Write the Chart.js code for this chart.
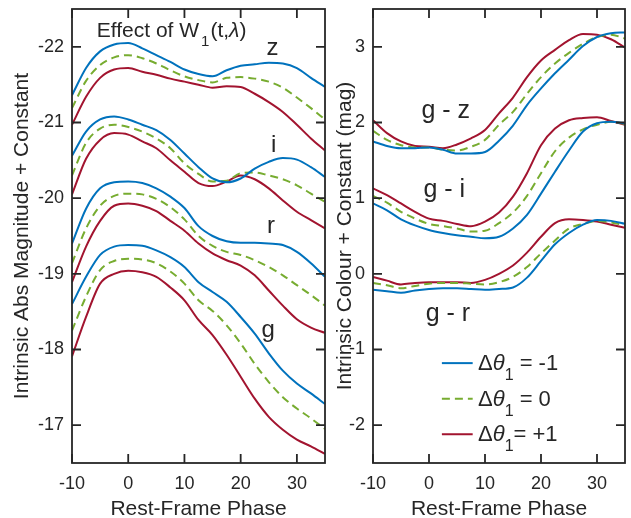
<!DOCTYPE html>
<html>
<head>
<meta charset="utf-8">
<script src="https://cdn.jsdelivr.net/npm/chart.js@4.4.0/dist/chart.umd.min.js"></script>
<style>
  body { margin: 0; background: #fff; }
  #wrap { position: relative; width: 631px; height: 518px; }
  canvas { position: absolute; top: 0; }
</style>
</head>
<body>
<div id="wrap">
  <canvas id="magChart" width="330" height="518" style="left:0"></canvas>
  <canvas id="colChart" width="301" height="518" style="left:330px"></canvas>
</div>
<script>
// rest-frame phase (days)
const phase = [-10, -7.5, -5, -2.5, 0, 2.5, 5, 7.5, 10, 12.5, 15, 17.5, 20, 22.5, 25, 27.5, 30, 32.5, 35];

// left panel: abs magnitude + constant, for d_theta1 = -1 / 0 / +1
const zNeg = [-21.36, -21.72, -21.94, -22.03, -22.05, -21.98, -21.89, -21.80, -21.70, -21.64, -21.61, -21.69, -21.75, -21.77, -21.79, -21.78, -21.72, -21.59, -21.47];
const zMid = [-21.19, -21.55, -21.76, -21.86, -21.89, -21.85, -21.78, -21.69, -21.61, -21.56, -21.53, -21.59, -21.60, -21.58, -21.54, -21.46, -21.33, -21.19, -21.04];
const zPos = [-20.97, -21.34, -21.59, -21.70, -21.72, -21.67, -21.63, -21.58, -21.54, -21.50, -21.46, -21.48, -21.47, -21.38, -21.27, -21.14, -20.97, -20.79, -20.63];
const iNeg = [-20.56, -20.88, -21.04, -21.08, -21.04, -20.97, -20.90, -20.77, -20.59, -20.41, -20.26, -20.21, -20.26, -20.39, -20.48, -20.53, -20.51, -20.41, -20.28];
const iMid = [-20.30, -20.73, -20.92, -20.97, -20.94, -20.88, -20.79, -20.66, -20.46, -20.32, -20.22, -20.23, -20.33, -20.34, -20.30, -20.25, -20.17, -20.06, -19.95];
const iPos = [-20.05, -20.52, -20.77, -20.86, -20.84, -20.75, -20.66, -20.50, -20.35, -20.20, -20.16, -20.22, -20.30, -20.25, -20.13, -19.97, -19.82, -19.71, -19.60];
const rNeg = [-19.40, -19.86, -20.13, -20.21, -20.22, -20.20, -20.13, -20.02, -19.87, -19.63, -19.50, -19.43, -19.41, -19.41, -19.40, -19.38, -19.29, -19.14, -18.96];
const rMid = [-19.14, -19.60, -19.90, -20.03, -20.06, -20.05, -19.99, -19.88, -19.72, -19.50, -19.37, -19.29, -19.25, -19.18, -19.09, -18.98, -18.85, -18.72, -18.58];
const rPos = [-18.89, -19.36, -19.70, -19.90, -19.93, -19.90, -19.83, -19.70, -19.57, -19.40, -19.27, -19.18, -19.11, -18.98, -18.78, -18.58, -18.40, -18.29, -18.22];
const gNeg = [-18.60, -18.96, -19.25, -19.36, -19.38, -19.37, -19.31, -19.22, -19.09, -18.89, -18.76, -18.63, -18.43, -18.21, -17.95, -17.72, -17.55, -17.42, -17.28];
const gMid = [-18.25, -18.70, -19.05, -19.17, -19.20, -19.19, -19.14, -19.03, -18.87, -18.65, -18.51, -18.32, -18.08, -17.81, -17.57, -17.37, -17.22, -17.09, -16.95];
const gPos = [-17.91, -18.43, -18.87, -19.00, -19.04, -19.02, -18.96, -18.82, -18.65, -18.39, -18.19, -17.93, -17.64, -17.35, -17.11, -16.94, -16.81, -16.72, -16.62];

// right panel: colours + constant
const gzNeg = [1.75, 1.69, 1.66, 1.66, 1.67, 1.64, 1.59, 1.59, 1.61, 1.76, 1.96, 2.23, 2.45, 2.65, 2.83, 3.01, 3.13, 3.18, 3.19];
const gzMid = [1.89, 1.77, 1.70, 1.67, 1.67, 1.64, 1.63, 1.68, 1.77, 1.97, 2.14, 2.38, 2.60, 2.78, 2.92, 3.04, 3.13, 3.16, 3.11];
const gzPos = [2.03, 1.86, 1.75, 1.69, 1.68, 1.66, 1.71, 1.79, 1.90, 2.12, 2.33, 2.60, 2.82, 2.96, 3.09, 3.17, 3.16, 3.10, 2.99];
const giNeg = [0.93, 0.84, 0.72, 0.64, 0.58, 0.54, 0.51, 0.49, 0.47, 0.49, 0.60, 0.78, 1.06, 1.35, 1.63, 1.88, 1.99, 2.01, 1.99];
const giMid = [1.03, 0.94, 0.82, 0.73, 0.66, 0.63, 0.60, 0.56, 0.57, 0.67, 0.81, 1.03, 1.33, 1.62, 1.80, 1.91, 1.97, 2.01, 1.98];
const giPos = [1.13, 1.04, 0.93, 0.82, 0.73, 0.70, 0.66, 0.63, 0.69, 0.81, 1.02, 1.33, 1.70, 1.92, 2.03, 2.06, 2.07, 2.02, 1.97];
const grNeg = [-0.21, -0.23, -0.25, -0.22, -0.20, -0.19, -0.19, -0.20, -0.21, -0.20, -0.18, -0.05, 0.17, 0.39, 0.54, 0.65, 0.71, 0.70, 0.66];
const grMid = [-0.12, -0.15, -0.19, -0.16, -0.13, -0.12, -0.12, -0.13, -0.14, -0.11, -0.04, 0.09, 0.27, 0.44, 0.60, 0.66, 0.70, 0.68, 0.64];
const grPos = [-0.04, -0.09, -0.14, -0.12, -0.11, -0.11, -0.11, -0.12, -0.08, 0.00, 0.11, 0.28, 0.49, 0.67, 0.72, 0.71, 0.69, 0.65, 0.61];

// ticks
const phaseTicks = [-10, 0, 10, 20, 30];
const magTicks = [-22, -21, -20, -19, -18, -17];
const colTicks = [-2, -1, 0, 1, 2, 3];

const BLUE = '#0072BD', GREEN = '#77AC30', RED = '#A2142F', INK = '#262626';
const FONT = "'Liberation Sans', Arial, Helvetica, sans-serif";

function series(vals, colour, dashed) {
    return {
        data: vals.map((v, i) => ({ x: phase[i], y: v })),
        borderColor: colour,
        borderWidth: 2,
        borderDash: dashed ? [8, 5] : [],
        pointRadius: 0,
        cubicInterpolationMode: 'monotone',
        fill: false
    };
}

function triple(neg, mid, pos) {
    return [series(neg, BLUE, false), series(mid, GREEN, true), series(pos, RED, false)];
}

// text with italics / subscripts, e.g. W_1 or theta_1
function richText(ctx, x, y, parts, size) {
    let cx = x;
    parts.forEach(p => {
        const s = p.sub ? Math.round(size * 0.72) : size;
        ctx.font = (p.italic ? 'italic ' : '') + s + 'px ' + FONT;
        ctx.fillText(p.t, cx, y + (p.sub ? size * 0.45 : 0));
        cx += ctx.measureText(p.t).width + (p.gap || 0);
    });
}

// box round the axes with inward tick marks on all four sides
const framePlugin = {
    id: 'frame',
    afterDatasetsDraw(chart) {
        const { ctx, chartArea: a, scales: { x, y } } = chart;
        const len = 9;
        ctx.save();
        ctx.strokeStyle = INK;
        ctx.lineWidth = 1.8;
        ctx.setLineDash([]);
        ctx.strokeRect(a.left, a.top, a.right - a.left, a.bottom - a.top);
        ctx.beginPath();
        x.ticks.forEach(t => {
            const px = x.getPixelForValue(t.value);
            ctx.moveTo(px, a.bottom); ctx.lineTo(px, a.bottom - len);
            ctx.moveTo(px, a.top); ctx.lineTo(px, a.top + len);
        });
        y.ticks.forEach(t => {
            const py = y.getPixelForValue(t.value);
            ctx.moveTo(a.left, py); ctx.lineTo(a.left + len, py);
            ctx.moveTo(a.right, py); ctx.lineTo(a.right - len, py);
        });
        ctx.stroke();
        ctx.restore();
    }
};

function makeOptions(yMin, yMax, yTicks, reverse, yTitle, yWidth, yTitlePad, padRight) {
    return {
        responsive: false,
        animation: false,
        layout: { padding: { top: 9, right: padRight, bottom: 0, left: 0 } },
        plugins: { legend: { display: false }, tooltip: { enabled: false } },
        scales: {
            x: {
                type: 'linear', min: -10, max: 35,
                afterBuildTicks: s => { s.ticks = phaseTicks.map(v => ({ value: v })); },
                afterFit: s => { s.height = 55; s.paddingLeft = 0; s.paddingRight = 0; },
                grid: { display: false, drawTicks: false },
                border: { display: false },
                ticks: { padding: 10, color: INK, font: { family: FONT, size: 18 }, callback: v => String(v) },
                title: { display: true, text: 'Rest-Frame Phase', color: INK, font: { family: FONT, size: 21 }, padding: { top: 0, bottom: -4 } }
            },
            y: {
                type: 'linear', min: yMin, max: yMax, reverse: reverse,
                afterBuildTicks: s => { s.ticks = yTicks.map(v => ({ value: v })); },
                afterFit: s => { s.width = yWidth; s.paddingTop = 0; s.paddingBottom = 0; },
                grid: { display: false, drawTicks: false },
                border: { display: false },
                ticks: { padding: 8, color: INK, font: { family: FONT, size: 18 }, callback: v => String(v) },
                title: { display: true, text: yTitle, color: INK, font: { family: FONT, size: 21 }, padding: { top: yTitlePad, bottom: 0 } }
            }
        }
    };
}

const magLabels = {
    id: 'magLabels',
    afterDraw(chart) {
        const { ctx, scales: { x, y } } = chart;
        ctx.save();
        ctx.fillStyle = INK;
        ctx.textBaseline = 'alphabetic';
        ctx.textAlign = 'left';
        richText(ctx, x.getPixelForValue(-5.6), y.getPixelForValue(-22.13),
            [{ t: 'Effect of W', gap: 2 }, { t: '1', sub: true, gap: 1 }, { t: '(t,' }, { t: 'λ', italic: true }, { t: ')' }], 21);
        ctx.font = '24px ' + FONT;
        ctx.fillText('z', x.getPixelForValue(24.6), y.getPixelForValue(-21.89));
        ctx.fillText('i', x.getPixelForValue(25.4), y.getPixelForValue(-20.61));
        ctx.fillText('r', x.getPixelForValue(24.7), y.getPixelForValue(-19.54));
        ctx.fillText('g', x.getPixelForValue(23.7), y.getPixelForValue(-18.16));
        ctx.restore();
    }
};

const colLabels = {
    id: 'colLabels',
    afterDraw(chart) {
        const { ctx, scales: { x, y } } = chart;
        ctx.save();
        ctx.fillStyle = INK;
        ctx.textBaseline = 'alphabetic';
        ctx.textAlign = 'left';
        ctx.font = '25px ' + FONT;
        ctx.fillText('g - z', x.getPixelForValue(-1.35), y.getPixelForValue(2.06));
        ctx.fillText('g - i', x.getPixelForValue(-1.0), y.getPixelForValue(1.01));
        ctx.fillText('g - r', x.getPixelForValue(-0.6), y.getPixelForValue(-0.62));

        // legend
        const rows = [
            { c: BLUE, dash: [], txt: ' = -1', y: -1.18 },
            { c: GREEN, dash: [8, 5], txt: ' = 0', y: -1.65 },
            { c: RED, dash: [], txt: '= +1', y: -2.12 }
        ];
        rows.forEach(r => {
            const py = y.getPixelForValue(r.y);
            ctx.strokeStyle = r.c;
            ctx.lineWidth = 2;
            ctx.setLineDash(r.dash);
            ctx.beginPath();
            ctx.moveTo(x.getPixelForValue(2.3), py);
            ctx.lineTo(x.getPixelForValue(7.8), py);
            ctx.stroke();
            ctx.setLineDash([]);
            richText(ctx, x.getPixelForValue(8.75), py + 7,
                [{ t: 'Δ' }, { t: 'θ', italic: true }, { t: '1', sub: true }, { t: r.txt }], 22);
        });
        ctx.restore();
    }
};

new Chart(document.getElementById('magChart'), {
    type: 'line',
    data: { datasets: [].concat(triple(zNeg, zMid, zPos), triple(iNeg, iMid, iPos), triple(rNeg, rMid, rPos), triple(gNeg, gMid, gPos)) },
    options: makeOptions(-22.5, -16.5, magTicks, true, 'Intrinsic Abs Magnitude + Constant', 72, 10, 5),
    plugins: [framePlugin, magLabels]
});

new Chart(document.getElementById('colChart'), {
    type: 'line',
    data: { datasets: [].concat(triple(gzNeg, gzMid, gzPos), triple(giNeg, giMid, giPos), triple(grNeg, grMid, grPos)) },
    options: makeOptions(-2.5, 3.5, colTicks, false, 'Intrinsic Colour + Constant (mag)', 43, 3, 6),
    plugins: [framePlugin, colLabels]
});
</script>
</body>
</html>
